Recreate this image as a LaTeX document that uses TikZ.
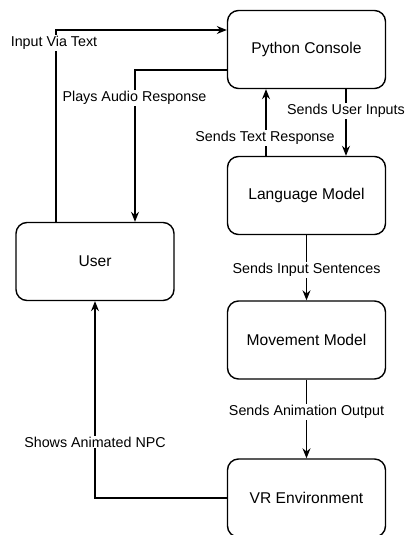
\documentclass[tikz,border=0pt]{standalone}
\usepackage{fontspec}
\setmainfont{Liberation Sans}
\usetikzlibrary{arrows.meta}

\begin{document}
\begin{tikzpicture}[x=1pt,y=-1pt,
  block/.style={draw,line width=1.4pt,rounded corners=11pt,minimum width=158pt,minimum height=78pt,font=\fontsize{15.6}{18}\selectfont},
  flow/.style={line width=1.1pt,-{Stealth[length=10pt,width=8pt]}},
  lbl/.style={fill=white,inner sep=1pt,font=\fontsize{14.3}{16}\selectfont}]

\useasboundingbox (0,0) rectangle (409,535);

\node[block] (console) at (306.5,49.5) {Python Console};
\node[block] (lang) at (306.5,195.5) {Language Model};
\node[block] (move) at (306.5,340) {Movement Model};
\node[block] (vr) at (306.5,498) {VR Environment};
\node[block] (user) at (95,261.5) {User};

\draw[flow] ([xshift=-39pt]user.north) |- ([yshift=19.5pt]console.west);
\draw[flow] ([yshift=-20.5pt]console.west) -| ([xshift=40pt]user.north);
\draw[flow] ([xshift=39.5pt]console.south) -- ([xshift=39.5pt]lang.north);
\draw[flow] ([xshift=-40.5pt]lang.north) -- ([xshift=-40.5pt]console.south);
\draw[flow] (lang.south) -- (move.north);
\draw[flow] (move.south) -- (vr.north);
\draw[flow] (vr.west) -| (user.south);

\node[lbl] (viatext) at (54,43) {Input Via Text};
\node[lbl] (audio) at (134.5,98) {Plays Audio Response};
\node[lbl] (userin) at (346,111) {Sends User Inputs};
\node[lbl] (textresp) at (265,138) {Sends Text Response};
\node[lbl] (sentences) at (306.5,270) {Sends Input Sentences};
\node[lbl] (animout) at (306.5,412) {Sends Animation Output};
\node[lbl] (npc) at (95,442) {Shows Animated NPC};

\end{tikzpicture}
\end{document}
